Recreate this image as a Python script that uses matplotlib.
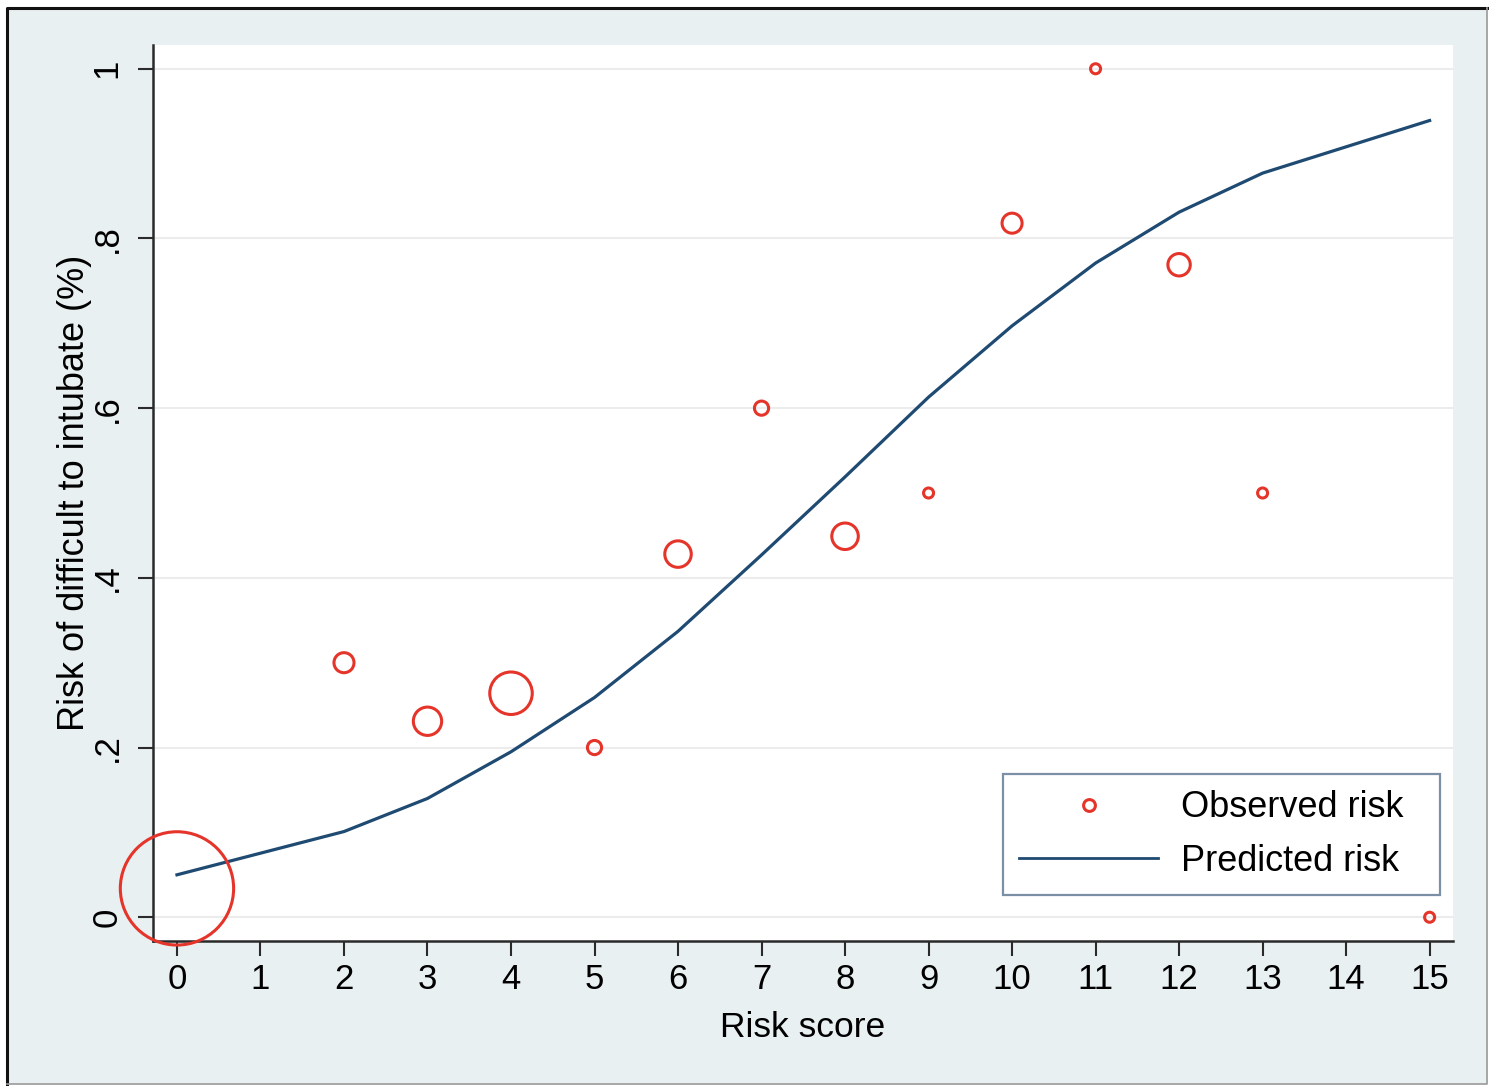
import numpy as np
import matplotlib.pyplot as plt
from matplotlib.lines import Line2D
from matplotlib.patches import Rectangle

# data
score = [0, 2, 3, 4, 5, 6, 7, 8, 9, 10, 11, 12, 13, 15]
observed = [0.034, 0.30, 0.231, 0.264, 0.20, 0.428, 0.60, 0.449, 0.50, 0.818, 1.0, 0.769, 0.50, 0.0]
predicted = [0.050, 0.101, 0.140, 0.195, 0.259, 0.337, 0.427, 0.519, 0.613, 0.697, 0.771, 0.831, 0.877, 0.939]
weight = [128, 4, 8, 18, 2, 7, 2, 7, 1, 4, 1, 5, 1, 1]   # relative marker weight (area)

xticks = list(range(16))
yticks = [0, 0.2, 0.4, 0.6, 0.8, 1.0]
ytick_labels = ["0", ".2", ".4", ".6", ".8", "1"]

red = "#e5352a"
navy = "#1f4a72"
bg = "#e9f0f2"

plt.rcParams['font.family'] = ['Liberation Sans', 'DejaVu Sans']

W, H = 1489, 1086
fig = plt.figure(figsize=(W / 100, H / 100), dpi=100, facecolor="white")

# outer frame (screenshot style)
fig.patches.append(Rectangle((7 / W, 2 / H), (W - 8) / W, (H - 10) / H,
                             transform=fig.transFigure, facecolor=bg, edgecolor="none", zorder=-10))
fig.lines.append(Line2D([7 / W, 7 / W, 1488 / W], [2 / H, (H - 8) / H, (H - 8) / H],
                        transform=fig.transFigure, color="#111111", lw=2.2, zorder=-5))
fig.lines.append(Line2D([7 / W, 1487 / W, 1487 / W], [2 / H, 2 / H, (H - 8) / H],
                        transform=fig.transFigure, color="#9a9a9a", lw=1.2, zorder=-5))

ax = fig.add_axes([153 / W, (H - 941) / H, 1300 / W, 896 / H])
ax.set_facecolor("white")

ax.grid(axis="y", color="#ececec", lw=1.5, zorder=0)
ax.set_axisbelow(True)

ax.plot(score, predicted, color=navy, lw=2.3, zorder=3)
sizes = np.array(weight) * 52.0
ax.scatter(score, observed, s=sizes, facecolors="none", edgecolors=red, linewidths=2.2,
           zorder=4, clip_on=False)

ax.set_xlim(-0.287, 15.28)
ax.set_ylim(-0.028, 1.028)

for side in ["top", "right"]:
    ax.spines[side].set_visible(False)
for side in ["left", "bottom"]:
    ax.spines[side].set_color("#2a2a2a")
    ax.spines[side].set_linewidth(1.8)

ax.set_xticks(xticks)
ax.set_xticklabels([str(t) for t in xticks], fontsize=25)
ax.set_yticks(yticks)
ax.set_yticklabels(ytick_labels, fontsize=25, rotation=90, va="center")
ax.tick_params(axis="both", direction="out", length=11, width=1.5, color="#2a2a2a")
ax.tick_params(axis="x", pad=5)
ax.tick_params(axis="y", pad=10)

fig.text(803 / W, (H - 1037) / H, "Risk score", fontsize=25.5, ha="center", va="baseline")
fig.text(84 / W, (H - 493) / H, "Risk of difficult to intubate (%)", fontsize=26,
         rotation=90, ha="center", va="baseline", rotation_mode="anchor")

handles = [
    Line2D([], [], ls="none", marker="o", markersize=8.5, markerfacecolor="none",
           markeredgecolor=red, markeredgewidth=2.2),
    Line2D([], [], color=navy, lw=2.0),
]
leg = ax.legend(handles, ["Observed risk", "Predicted risk"], loc="lower left",
                bbox_to_anchor=(0.6538, 0.051, 0.3362, 0.2), mode="expand",
                fontsize=26, frameon=True, fancybox=False,
                handlelength=3.85, handletextpad=0.64, borderpad=0.45, labelspacing=0.52,
                borderaxespad=0.0)
leg.get_frame().set_edgecolor("#5a7391")
leg.get_frame().set_linewidth(1.6)

fig.savefig("out.png", dpi=100, facecolor=fig.get_facecolor())
